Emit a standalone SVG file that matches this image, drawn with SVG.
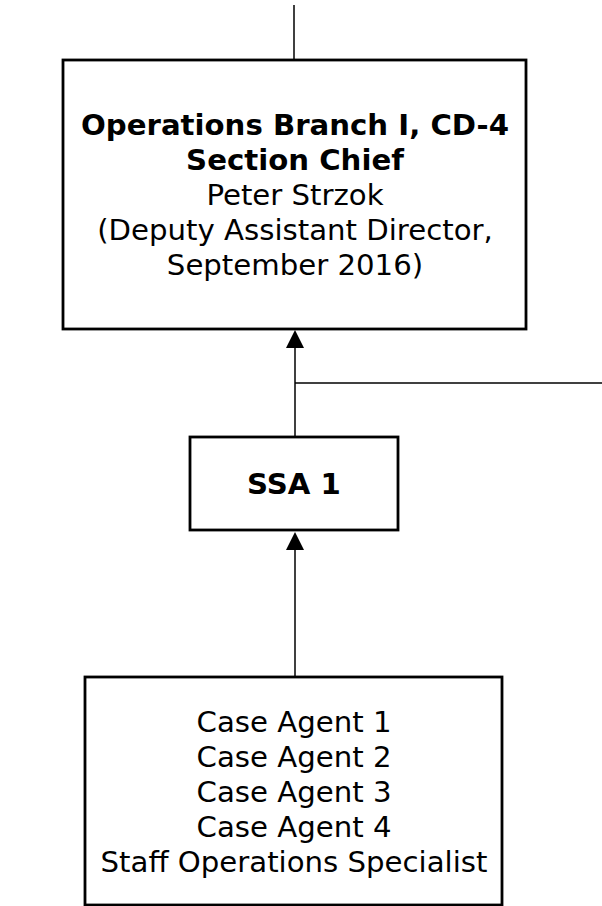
<svg xmlns="http://www.w3.org/2000/svg" width="602" height="906" viewBox="0 0 602 906">
<style>
.box{fill:#fff;stroke:#000;stroke-width:2.8}
.ln{fill:none;stroke:#000;stroke-width:1.5}
.ah{fill:#000;stroke:none}
text{font-family:"DejaVu Sans","Verdana",sans-serif;font-size:29.2px;fill:#000;text-anchor:middle}
.b{font-weight:bold}
</style>
<rect width="602" height="906" fill="#fff"/>
<g id="connectors">
<line class="ln" x1="294" y1="5" x2="294" y2="60"/>
<line class="ln" x1="295" y1="346" x2="295" y2="437"/>
<line class="ln" x1="295" y1="383" x2="602" y2="383"/>
<polygon class="ah" points="295,330 286,348 304,348"/>
<line class="ln" x1="295" y1="548" x2="295" y2="677"/>
<polygon class="ah" points="295,532 286,550 304,550"/>
</g>
<g id="section-chief">
<rect class="box" x="63" y="60" width="463" height="269"/>
<text class="b" x="295" y="135">Operations Branch I, CD-4</text>
<text class="b" x="295" y="170">Section Chief</text>
<text x="295" y="205">Peter Strzok</text>
<text x="295" y="240">(Deputy Assistant Director,</text>
<text x="295" y="275">September 2016)</text>
</g>
<g id="ssa1">
<rect class="box" x="190" y="437" width="208" height="93"/>
<text class="b" x="294" y="494">SSA 1</text>
</g>
<g id="agents">
<rect class="box" x="85" y="677" width="417" height="228"/>
<text x="294" y="732">Case Agent 1</text>
<text x="294" y="767">Case Agent 2</text>
<text x="294" y="802">Case Agent 3</text>
<text x="294" y="837">Case Agent 4</text>
<text x="294" y="872">Staff Operations Specialist</text>
</g>
</svg>
